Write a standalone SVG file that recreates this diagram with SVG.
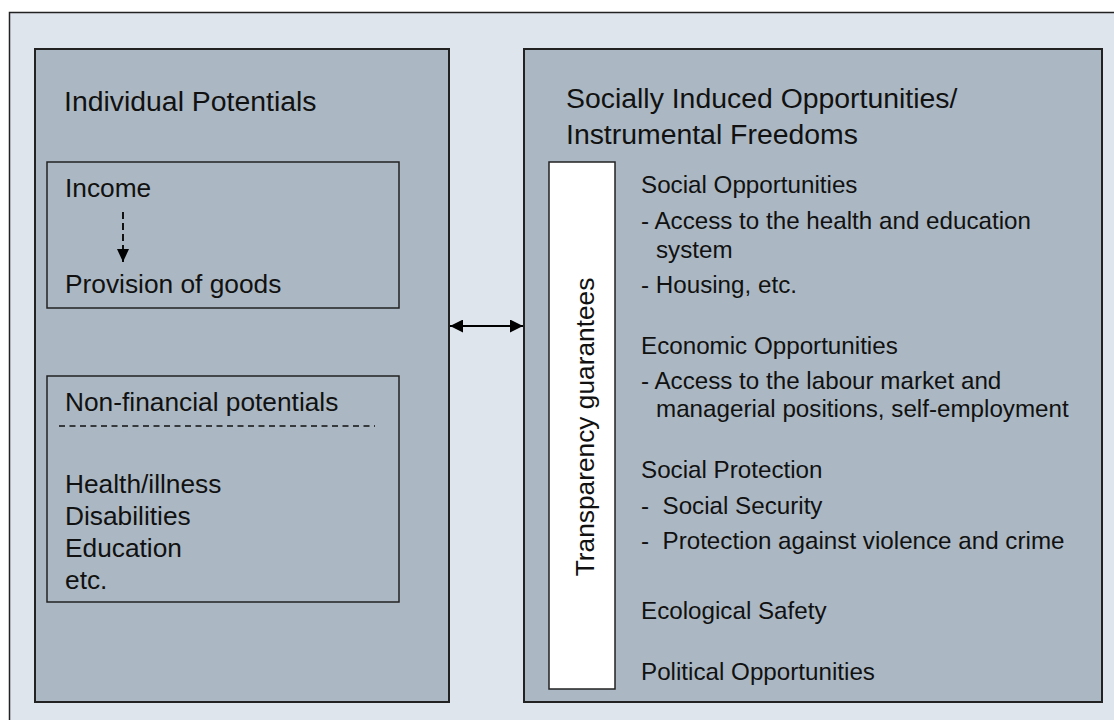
<svg xmlns="http://www.w3.org/2000/svg" width="1114" height="720" viewBox="0 0 1114 720">
<defs>
<style>
.frame{fill:#dfe5ec;stroke:#222;stroke-width:1.5}
.panel{fill:#abb8c3;stroke:#222;stroke-width:2}
.box{fill:none;stroke:#222;stroke-width:1.5}
.tbox{fill:#fff;stroke:#222;stroke-width:1.5}
.title{font-family:"Liberation Sans",Arial,sans-serif;font-size:28.4px;fill:#111}
.lt{font-family:"Liberation Sans",Arial,sans-serif;font-size:26.3px;fill:#111}
.rt{font-family:"Liberation Sans",Arial,sans-serif;font-size:24.2px;fill:#111}
.dash{stroke:#111;stroke-width:1.5;stroke-dasharray:6 4.5;fill:none}
</style>
<marker id="ah" viewBox="0 0 13 12" refX="13" refY="6" markerWidth="13" markerHeight="12" markerUnits="userSpaceOnUse" orient="auto-start-reverse">
<path d="M0,0 L13,6 L0,12 z" fill="#000"/>
</marker>
<marker id="ah2" viewBox="0 0 13 13" refX="13" refY="6.5" markerWidth="13" markerHeight="13" markerUnits="userSpaceOnUse" orient="auto-start-reverse">
<path d="M0,0 L13,6.5 L0,13 z" fill="#000"/>
</marker>
</defs>
<rect class="frame" x="9.5" y="12.5" width="1120" height="720"/>
<g id="individual-potentials">
<rect class="panel" x="35" y="49" width="414" height="653"/>
<text class="title" x="64" y="110.5">Individual Potentials</text>
</g>
<g id="income-box">
<rect class="box" x="47" y="162" width="352" height="146"/>
<text class="lt" x="65" y="197">Income</text>
<text class="lt" x="65" y="293">Provision of goods</text>
</g>
<g id="nonfinancial-box">
<rect class="box" x="47" y="376" width="352" height="226"/>
<text class="lt" x="65" y="411">Non-financial potentials</text>
<line class="dash" x1="59" y1="426" x2="375" y2="426"/>
<text class="lt" x="65" y="493">Health/illness</text>
<text class="lt" x="65" y="525">Disabilities</text>
<text class="lt" x="65" y="557">Education</text>
<text class="lt" x="65" y="589">etc.</text>
</g>
<g id="social-opportunities">
<rect class="panel" x="524" y="49" width="578" height="653"/>
<text class="title" x="566" y="108">Socially Induced Opportunities/</text>
<text class="title" x="566" y="144">Instrumental Freedoms</text>
<text class="rt" x="641" y="193">Social Opportunities</text>
<text class="rt" x="641" y="229">- Access to the health and education</text>
<text class="rt" x="656" y="258">system</text>
<text class="rt" x="641" y="293">- Housing, etc.</text>
<text class="rt" x="641" y="354">Economic Opportunities</text>
<text class="rt" x="641" y="389">- Access to the labour market and</text>
<text class="rt" x="656" y="417">managerial positions, self-employment</text>
<text class="rt" x="641" y="478">Social Protection</text>
<text class="rt" x="641" y="514" xml:space="preserve">-  Social Security</text>
<text class="rt" x="641" y="549" xml:space="preserve">-  Protection against violence and crime</text>
<text class="rt" x="641" y="619">Ecological Safety</text>
<text class="rt" x="641" y="680">Political Opportunities</text>
</g>
<g id="transparency">
<rect class="tbox" x="549" y="162" width="66" height="527"/>
<text class="lt" transform="translate(594,427) rotate(-90)" text-anchor="middle">Transparency guarantees</text>
</g>
<g id="connectors">
<line x1="123" y1="212" x2="123" y2="262" stroke="#111" stroke-width="2" stroke-dasharray="7 4" fill="none" marker-end="url(#ah)"/>
<line x1="450" y1="326" x2="523" y2="326" stroke="#000" stroke-width="2" marker-start="url(#ah2)" marker-end="url(#ah2)"/>
</g>
</svg>
